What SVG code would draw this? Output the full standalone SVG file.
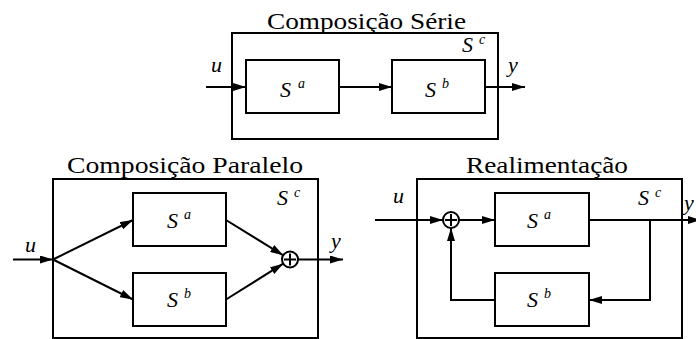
<svg xmlns="http://www.w3.org/2000/svg" width="696" height="339" viewBox="0 0 696 339">
<style>
.box{fill:none;stroke:#000;stroke-width:2}
.ln{fill:none;stroke:#000;stroke-width:2}
.arr{marker-end:url(#ah)}
.ttl{font-family:'Liberation Serif','DejaVu Serif','Noto Serif',serif;font-size:24px;fill:#000}
.it{font-family:'Liberation Serif','DejaVu Serif','Noto Serif',serif;font-style:italic;font-size:22px;fill:#000}
.sup{font-family:'Liberation Serif','DejaVu Serif','Noto Serif',serif;font-style:italic;font-size:14px;fill:#000}
.sum{fill:#fff;stroke:#000;stroke-width:2}
</style>
<defs>
<marker id="ah" markerUnits="userSpaceOnUse" markerWidth="13" markerHeight="8" refX="13" refY="4" orient="auto">
<path d="M0,0 L13,4 L0,8 z" fill="#000"/>
</marker>
</defs>
<rect width="696" height="339" fill="#fff"/>

<g id="serie">
<text class="ttl" font-family="Liberation Serif" x="267" y="29" textLength="199" lengthAdjust="spacingAndGlyphs">Composição Série</text>
<rect class="box" x="232" y="33" width="266" height="106"/>
<text class="it" font-family="Liberation Serif" x="462" y="52">S</text><text class="sup" font-family="Liberation Serif" x="479" y="44">c</text>
</g>
<g id="serie-Sa">
<rect class="box" x="246" y="60" width="93" height="53"/>
<text class="it" font-family="Liberation Serif" x="280" y="97">S</text><text class="sup" font-family="Liberation Serif" x="298" y="88">a</text>
</g>
<g id="serie-Sb">
<rect class="box" x="392" y="60" width="93" height="53"/>
<text class="it" font-family="Liberation Serif" x="425" y="97">S</text><text class="sup" font-family="Liberation Serif" x="442" y="88">b</text>
</g>

<g id="paralelo">
<text class="ttl" font-family="Liberation Serif" x="67" y="173" textLength="236" lengthAdjust="spacingAndGlyphs">Composição Paralelo</text>
<rect class="box" x="53" y="179" width="265" height="159"/>
<text class="it" font-family="Liberation Serif" x="277" y="205">S</text><text class="sup" font-family="Liberation Serif" x="294" y="197">c</text>
</g>
<g id="paralelo-Sa">
<rect class="box" x="133" y="193" width="93" height="53"/>
<text class="it" font-family="Liberation Serif" x="167" y="228">S</text><text class="sup" font-family="Liberation Serif" x="184" y="219">a</text>
</g>
<g id="paralelo-Sb">
<rect class="box" x="133" y="273" width="93" height="53"/>
<text class="it" font-family="Liberation Serif" x="167" y="307">S</text><text class="sup" font-family="Liberation Serif" x="184" y="298">b</text>
</g>
<g id="paralelo-sum">
<circle class="sum" cx="290" cy="259.5" r="8"/>
<path class="ln" d="M284,259.5 H296 M290,253.5 V265.5"/>
</g>

<g id="realimentacao">
<text class="ttl" font-family="Liberation Serif" x="466" y="173" textLength="162" lengthAdjust="spacingAndGlyphs">Realimentação</text>
<rect class="box" x="417" y="179" width="265" height="159"/>
<text class="it" font-family="Liberation Serif" x="638" y="205">S</text><text class="sup" font-family="Liberation Serif" x="655" y="197">c</text>
</g>
<g id="realimentacao-Sa">
<rect class="box" x="495" y="193" width="94" height="53"/>
<text class="it" font-family="Liberation Serif" x="527" y="228">S</text><text class="sup" font-family="Liberation Serif" x="544" y="219">a</text>
</g>
<g id="realimentacao-Sb">
<rect class="box" x="495" y="273" width="94" height="53"/>
<text class="it" font-family="Liberation Serif" x="527" y="307">S</text><text class="sup" font-family="Liberation Serif" x="544" y="298">b</text>
</g>
<g id="realimentacao-sum">
<circle class="sum" cx="451" cy="220" r="8"/>
<path class="ln" d="M445,220 H457 M451,214 V226"/>
</g>

<g id="connectors">
<path class="ln arr" d="M206,87 H246"/>
<path class="ln arr" d="M339,87 H392"/>
<path class="ln arr" d="M485,87 H525"/>
<text class="it" font-family="Liberation Serif" x="211" y="72">u</text>
<text class="it" font-family="Liberation Serif" x="508" y="72">y</text>

<path class="ln arr" d="M13,259.5 H53"/>
<path class="ln arr" d="M53,259.5 L133,220"/>
<path class="ln arr" d="M53,259.5 L133,299.5"/>
<path class="ln arr" d="M226,220 L283.2,255.3"/>
<path class="ln arr" d="M226,299.5 L283.2,263.7"/>
<path class="ln arr" d="M298,259.5 H343"/>
<text class="it" font-family="Liberation Serif" x="25" y="252">u</text>
<text class="it" font-family="Liberation Serif" x="331" y="248">y</text>

<path class="ln arr" d="M375,220 H443"/>
<path class="ln arr" d="M459,220 H495"/>
<path class="ln arr" d="M589,220 H701"/>
<path class="ln arr" d="M650,220 V300 H589"/>
<path class="ln arr" d="M495,300 H451 V228"/>
<text class="it" font-family="Liberation Serif" x="393" y="203">u</text>
<text class="it" font-family="Liberation Serif" x="684" y="210">y</text>
</g>
</svg>
